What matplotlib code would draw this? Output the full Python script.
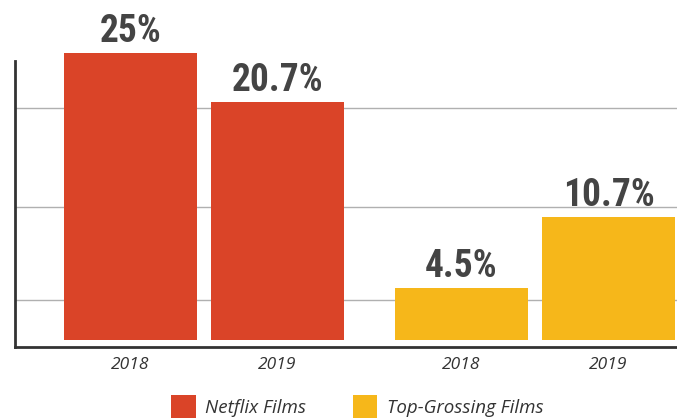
import matplotlib.pyplot as plt
from matplotlib.patches import Patch

# data
years = ['2018', '2019', '2018', '2019']
values = [25, 20.7, 4.5, 10.7]
labels = ['25%', '20.7%', '4.5%', '10.7%']
groups = ['Netflix Films', 'Top-Grossing Films']
group_idx = [0, 0, 1, 1]

colors = ['#DA4428', '#F6B71A']
xpos = [0, 1, 2.252, 3.252]

fig = plt.figure(figsize=(6.77, 4.18), dpi=100)
ax = fig.add_axes([15/677, 71/418, 662/677, 286/418])

ax.bar(xpos, values, width=0.905, color=[colors[g] for g in group_idx],
       clip_on=False, zorder=3)

for x, v, lab in zip(xpos, values, labels):
    ax.text(x, v + 0.96, lab, ha='center', va='baseline', fontsize=27,
            fontweight='bold', color='#444444',
            family=['Roboto Condensed', 'Liberation Sans Narrow', 'Liberation Sans'],
            zorder=4)

ax.set_xlim(-0.786, 3.718)
ax.set_ylim(-0.61, 24.3)

# gridlines
ax.set_yticks([3.48, 11.59, 20.2])
ax.yaxis.grid(True, color='#b0b0b0', linewidth=1)
ax.tick_params(axis='y', length=0, labelleft=False)
ax.set_axisbelow(True)

ax.set_xticks(xpos)
ax.set_xticklabels(years, fontsize=12.5, style='italic', color='#333333',
                   family='Open Sans')
ax.tick_params(axis='x', length=0, pad=7)

for s in ['top', 'right']:
    ax.spines[s].set_visible(False)
for s in ['left', 'bottom']:
    ax.spines[s].set_color('#333333')
    ax.spines[s].set_linewidth(2)

handles = [Patch(facecolor=colors[0], label=groups[0]),
           Patch(facecolor=colors[1], label=groups[1])]
leg = fig.legend(handles=handles, loc='lower center', ncol=2, frameon=False,
                 bbox_to_anchor=(0.528, -0.04), handlelength=1.3, handleheight=1.5,
                 columnspacing=2.5, handletextpad=0.5,
                 prop={'family': 'Open Sans', 'style': 'italic', 'size': 13.5})
for t in leg.get_texts():
    t.set_color('#333333')

fig.savefig('out.png', dpi=100)
